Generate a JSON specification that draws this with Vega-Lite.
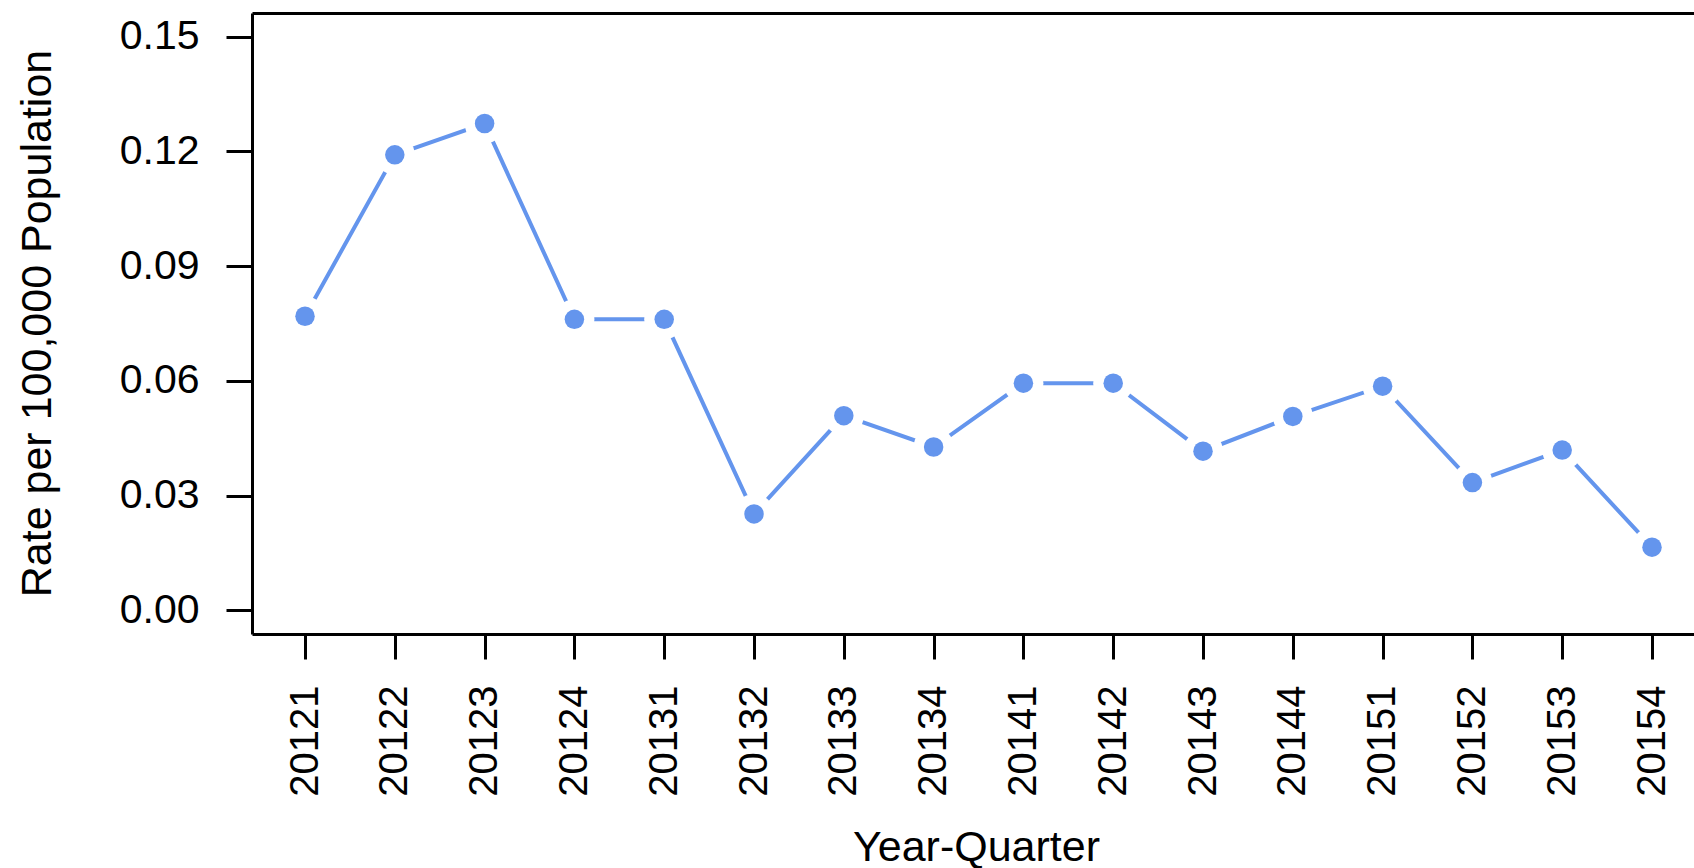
{
  "$schema": "https://vega.github.io/schema/vega-lite/v6.json",
  "width": 1442,
  "height": 621,
  "autosize": {"type": "none"},
  "padding": {"left": 252, "top": 13, "right": 0, "bottom": 234},
  "background": "white",
  "config": {
    "view": {"stroke": null},
    "font": "Liberation Sans",
    "axis": {
      "grid": false,
      "domainColor": "black",
      "domainWidth": 3,
      "tickColor": "black",
      "tickWidth": 3,
      "labelColor": "black",
      "titleColor": "black",
      "titleFontWeight": "normal",
      "labelFont": "Liberation Sans",
      "titleFont": "Liberation Sans"
    }
  },
  "data": {
    "values": [
      {"yq": "20121", "rate": 0.0769},
      {"yq": "20122", "rate": 0.1191},
      {"yq": "20123", "rate": 0.1273},
      {"yq": "20124", "rate": 0.0761},
      {"yq": "20131", "rate": 0.0761},
      {"yq": "20132", "rate": 0.0252},
      {"yq": "20133", "rate": 0.0509},
      {"yq": "20134", "rate": 0.0427},
      {"yq": "20141", "rate": 0.0594},
      {"yq": "20142", "rate": 0.0594},
      {"yq": "20143", "rate": 0.0416},
      {"yq": "20144", "rate": 0.0507},
      {"yq": "20151", "rate": 0.0586},
      {"yq": "20152", "rate": 0.0334},
      {"yq": "20153", "rate": 0.0419},
      {"yq": "20154", "rate": 0.0165}
    ]
  },
  "layer": [
    {
      "mark": {"type": "line", "color": "#6495ED", "strokeWidth": 4},
      "encoding": {
        "x": {
          "field": "yq", "type": "ordinal", "sort": null,
          "scale": {"type": "point", "padding": 0.529, "align": 0.558},
          "axis": {
            "orient": "bottom",
            "title": "Year-Quarter",
            "titleFontSize": 43,
            "titleX": 724,
            "titleY": 213,
            "titleBaseline": "middle",
            "labelAngle": 270,
            "labelFontSize": 40,
            "labelPadding": 26,
            "labelAlign": "right",
            "labelBaseline": "middle",
            "tickSize": 25
          }
        },
        "y": {
          "field": "rate", "type": "quantitative",
          "scale": {"domain": [-0.0062, 0.1562], "nice": false, "zero": false},
          "axis": {
            "title": "Rate per 100,000 Population",
            "titleFontSize": 43,
            "titleAngle": 270,
            "titleX": -215,
            "titleY": 310,
            "titleAlign": "center",
            "titleBaseline": "middle",
            "values": [0, 0.03, 0.06, 0.09, 0.12, 0.15],
            "format": ".2f",
            "labelFontSize": 41,
            "labelPadding": 27,
            "tickSize": 26
          }
        }
      }
    },
    {
      "mark": {"type": "point", "filled": true, "shape": "circle", "size": 1600, "color": "white", "opacity": 1},
      "encoding": {
        "x": {
          "field": "yq", "type": "ordinal", "sort": null,
          "axis": {"orient": "top", "labels": false, "ticks": false, "title": null, "domain": true}
        },
        "y": {"field": "rate", "type": "quantitative", "axis": null}
      }
    },
    {
      "mark": {"type": "point", "filled": true, "shape": "circle", "size": 380, "color": "#6495ED", "opacity": 1},
      "encoding": {
        "x": {"field": "yq", "type": "ordinal", "sort": null, "axis": null},
        "y": {"field": "rate", "type": "quantitative", "axis": null}
      }
    }
  ],
  "resolve": {"axis": {"x": "independent", "y": "independent"}}
}
